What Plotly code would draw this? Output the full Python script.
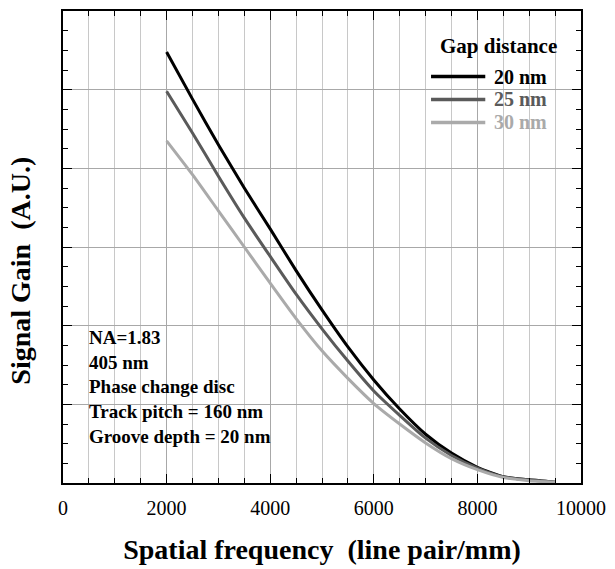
import plotly.graph_objects as go

# ---- data ----
freq = [2000, 2500, 3000, 3500, 4000, 4500, 5000, 5500, 6000, 6500, 7000, 7500, 8000, 8500, 9000, 9500]
gain_20nm = [5.48, 4.88, 4.30, 3.75, 3.23, 2.70, 2.20, 1.73, 1.31, 0.94, 0.62, 0.38, 0.20, 0.08, 0.04, 0.01]
gain_25nm = [4.98, 4.45, 3.90, 3.37, 2.88, 2.40, 1.96, 1.55, 1.17, 0.86, 0.57, 0.35, 0.19, 0.08, 0.04, 0.01]
gain_30nm = [4.35, 3.92, 3.46, 3.00, 2.54, 2.09, 1.68, 1.33, 1.01, 0.75, 0.51, 0.31, 0.17, 0.07, 0.03, 0.01]
series_names = ["20 nm", "25 nm", "30 nm"]
series_colors = ["#000000", "#5a5a5a", "#aaaaaa"]
legend_title = "Gap distance"
info_lines = ["NA=1.83", "405 nm", "Phase change disc", "Track pitch = 160 nm", "Groove depth = 20 nm"]
x_tickvals = [0, 2000, 4000, 6000, 8000, 10000]
x_title = "Spatial frequency\u00a0 (line pair/mm)"
y_title = "Signal Gain\u00a0 (A.U.)"

FONT = "Liberation Serif, Times New Roman, serif"

fig = go.Figure()
for name, vals, col in zip(series_names, [gain_20nm, gain_25nm, gain_30nm], series_colors):
    fig.add_trace(go.Scatter(x=freq, y=vals, mode="lines", name=name,
                             line=dict(color=col, width=3, shape="spline", smoothing=0.6),
                             showlegend=False))

# manual legend (to match compact spacing of reference)
fig.add_annotation(xref="paper", yref="paper", x=0.84, y=0.926, text=f"<b>{legend_title}</b>",
                   showarrow=False, xanchor="center", yanchor="middle",
                   font=dict(family=FONT, size=21, color="black"))
row_y = [0.861, 0.8126, 0.764]
for name, col, yy in zip(series_names, series_colors, row_y):
    fig.add_shape(type="line", xref="paper", yref="paper", x0=0.7105, x1=0.8152, y0=yy, y1=yy,
                  line=dict(color=col, width=3.5))
    fig.add_annotation(xref="paper", yref="paper", x=0.829, y=yy, text=f"<b>{name}</b>",
                       showarrow=False, xanchor="left", yanchor="middle",
                       font=dict(family=FONT, size=20, color=col))

fig.add_annotation(xref="paper", yref="paper", x=0.047, y=0.203,
                   text="<br>".join(f"<b>{t}</b>" for t in info_lines),
                   showarrow=False, xanchor="left", yanchor="middle", align="left",
                   font=dict(family=FONT, size=19, color="black"))

# y-axis title as rotated annotation (placed lower than centre, as in reference)
fig.add_annotation(xref="paper", yref="paper", x=-0.081, y=0.45, text=f"<b>{y_title}</b>",
                   textangle=-90, showarrow=False, xanchor="center", yanchor="middle",
                   font=dict(family=FONT, size=28, color="black"))

fig.update_layout(
    width=615, height=569,
    margin=dict(l=63, r=27, t=9, b=85),
    plot_bgcolor="white", paper_bgcolor="white",
    font=dict(family=FONT, color="black"),
)
fig.update_xaxes(
    range=[0, 10000], tickvals=x_tickvals, ticktext=[str(v) for v in x_tickvals],
    ticks="inside", ticklen=9, tickwidth=1.3, tickcolor="black",
    showline=True, linecolor="black", linewidth=1.5, mirror="ticks",
    showgrid=True, gridcolor="#a8a8a8", gridwidth=1.3,
    minor=dict(dtick=500, tick0=0, ticks="inside", ticklen=5, tickcolor="black",
               showgrid=True, gridcolor="#c8c8c8", gridwidth=1.3),
    tickfont=dict(family=FONT, size=20, color="black"),
    ticklabelstandoff=6,
    title=dict(text=f"<b>{x_title}</b>",
               font=dict(family=FONT, size=28, color="black"), standoff=22),
    zeroline=False,
)
fig.update_yaxes(
    range=[0, 6], dtick=1, showticklabels=False,
    ticks="inside", ticklen=9, tickwidth=1.3, tickcolor="black",
    showline=True, linecolor="black", linewidth=1.5, mirror="ticks",
    showgrid=True, gridcolor="#a8a8a8", gridwidth=1.3,
    minor=dict(dtick=0.25, tick0=0, ticks="inside", ticklen=5, tickcolor="black", showgrid=False),
    zeroline=False,
)

fig.write_html("out.html")
